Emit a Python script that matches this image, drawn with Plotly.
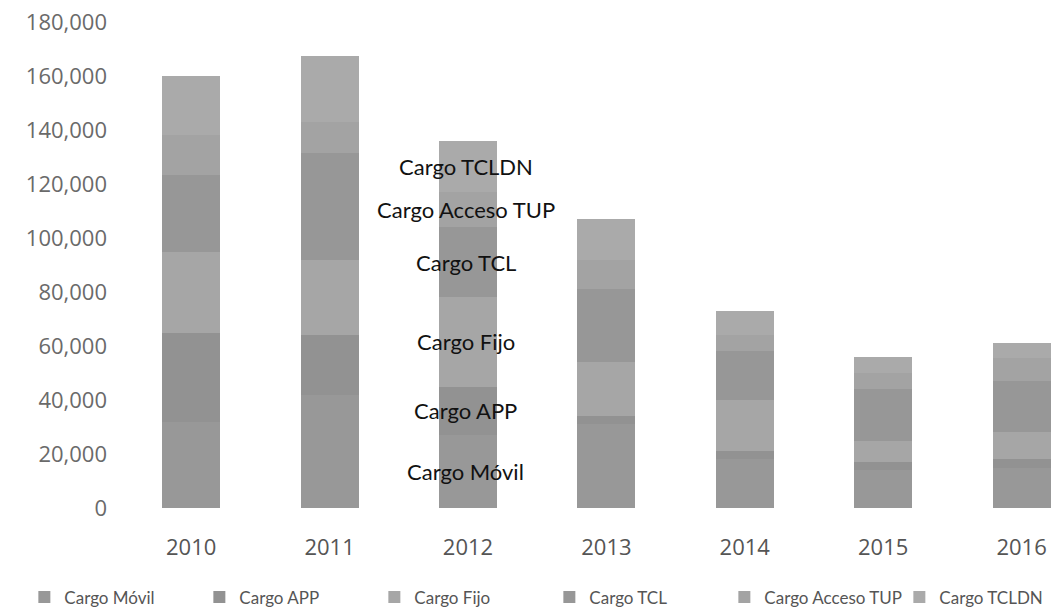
import plotly.graph_objects as go

# years on the x axis
years = ['2010', '2011', '2012', '2013', '2014', '2015', '2016']

# stacked values per concept
cargo_movil = [32000, 42000, 27000, 31000, 18000, 14000, 15000]
cargo_app = [33000, 22000, 18000, 3000, 3000, 3000, 3000]
cargo_fijo = [30000, 28000, 33000, 20000, 19000, 8000, 10000]
cargo_tcl = [28500, 39500, 26000, 27000, 18000, 19000, 19000]
cargo_acceso_tup = [14500, 11500, 13000, 11000, 6000, 6000, 8500]
cargo_tcldn = [22000, 24500, 19000, 15000, 9000, 6000, 5500]

series = [
    ('Cargo Móvil', cargo_movil, '#989898'),
    ('Cargo APP', cargo_app, '#929292'),
    ('Cargo Fijo', cargo_fijo, '#a6a6a6'),
    ('Cargo TCL', cargo_tcl, '#979797'),
    ('Cargo Acceso TUP', cargo_acceso_tup, '#a3a3a3'),
    ('Cargo TCLDN', cargo_tcldn, '#aaaaaa'),
]

y_ticks = [0, 20000, 40000, 60000, 80000, 100000, 120000, 140000, 160000, 180000]

fig = go.Figure()
for name, vals, col in series:
    fig.add_trace(go.Bar(name=name, x=years, y=vals, marker_color=col,
                         marker_line_width=0, width=0.42))

# series names written over the 2012 bar, centred in each segment
i2012 = years.index('2012')
base = 0
for name, vals, col in series:
    v = vals[i2012]
    fig.add_annotation(x=i2012, y=base + v / 2, text=name, showarrow=False,
                       xshift=-2, font=dict(family='Lato', size=22, color='#111111'))
    base += v

fig.update_layout(
    barmode='stack',
    width=1062, height=615,
    margin=dict(l=114, r=0, t=14, b=115, autoexpand=False),
    paper_bgcolor='white', plot_bgcolor='white',
    font=dict(family='Open Sans', size=16, color='#555555'),
    legend=dict(orientation='h', traceorder='normal', x=-0.103, xanchor='left',
                y=-0.184, yanchor='middle',
                font=dict(family='Lato', size=17, color='#555555'),
                itemwidth=30, entrywidth=130),
    showlegend=True,
)
fig.update_xaxes(type='category', range=[-0.5, 6.35], showgrid=False, showline=False,
                 ticks='', ticklabelstandoff=24,
                 tickfont=dict(family='Open Sans', size=22, color='#555555'))
fig.update_yaxes(range=[0, 180000], tickvals=y_ticks, tickformat=',d', showgrid=False,
                 zeroline=False, showline=False, ticks='', ticklabelstandoff=14,
                 ticklabeloverflow='allow',
                 tickfont=dict(family='Open Sans', size=22, color='#6a6a6a'))

fig.write_html("out.html")
